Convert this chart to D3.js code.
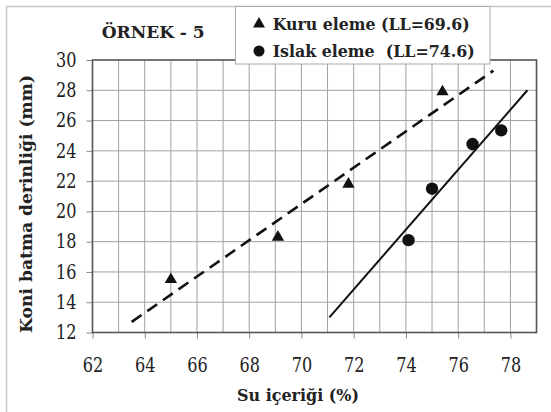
<!DOCTYPE html>
<html><head><meta charset="utf-8">
<script src="https://cdn.jsdelivr.net/npm/d3@7"></script>
<style>body{margin:0;background:#fff}svg{display:block}</style>
</head><body>
<svg id="c" width="551" height="412"></svg>
<script>
const title = "ÖRNEK - 5";
const xLabel = "Su içeriği (%)";
const yLabel = "Koni batma derinliği (mm)";
const xTicks = [62,64,66,68,70,72,74,76,78];
const yTicks = [12,14,16,18,20,22,24,26,28,30];
const kuruName = "Kuru eleme (LL=69.6)";
const islakName = "Islak eleme  (LL=74.6)";
const kuruX = [65.0, 69.1, 71.8, 75.4];
const kuruY = [15.5, 18.3, 21.8, 27.9];
const islakX = [74.1, 75.0, 76.55, 77.65];
const islakY = [18.1, 21.5, 24.45, 25.35];
const kuruFitX = [63.5, 77.35];
const kuruFitY = [12.7, 29.3];
const islakFitX = [71.07, 78.65];
const islakFitY = [13.0, 28.0];

const FONT = "'DejaVu Serif', serif";
const svg = d3.select("#c");
const L = 92.5, R = 536.5, T = 60, B = 332.5;
const x = d3.scaleLinear().domain([62,79]).range([L,R]);
const y = d3.scaleLinear().domain([12,30]).range([B,T]);

svg.append("path").attr("d","M6.5,412 V6.5 H551").attr("fill","none").attr("stroke","#c8c8c8").attr("stroke-width",1.5);

const g = svg.append("g");
g.selectAll(".vg").data(d3.range(63,79)).join("line")
  .attr("x1",d=>x(d)).attr("x2",d=>x(d)).attr("y1",T).attr("y2",B)
  .attr("stroke","#a0a0a0").attr("stroke-width",1);
g.selectAll(".hg").data(yTicks.slice(1,-1)).join("line")
  .attr("y1",d=>y(d)).attr("y2",d=>y(d)).attr("x1",L).attr("x2",R)
  .attr("stroke","#a0a0a0").attr("stroke-width",1);

const xAxis = d3.axisBottom(x).tickValues(xTicks).tickSize(6).tickSizeOuter(0).tickPadding(20);
const yAxis = d3.axisLeft(y).tickValues(yTicks).tickSize(6).tickSizeOuter(0).tickPadding(10);
const gx = svg.append("g").attr("transform",`translate(0,${B})`).call(xAxis);
const gy = svg.append("g").attr("transform",`translate(${L},0)`).call(yAxis);
[gx,gy].forEach(a=>{
  a.attr("font-family",null).attr("font-size",null);
  a.select(".domain").remove();
  a.selectAll(".tick line").attr("stroke","#888").attr("stroke-width",1);
  a.selectAll(".tick text").style("font-family",FONT).style("font-size","19.5px").attr("fill","#222")
    .attr("textLength",20.5).attr("lengthAdjust","spacingAndGlyphs");
});
svg.append("rect").attr("x",L).attr("y",T).attr("width",R-L).attr("height",B-T)
  .attr("fill","none").attr("stroke","#555").attr("stroke-width",1.6);

const line = d3.line().x(d=>x(d[0])).y(d=>y(d[1]));
svg.append("path").datum(kuruFitX.map((v,i)=>[v,kuruFitY[i]])).attr("d",line)
  .attr("fill","none").attr("stroke","#111").attr("stroke-width",2.6).attr("stroke-dasharray","12,7");
svg.append("path").datum(islakFitX.map((v,i)=>[v,islakFitY[i]])).attr("d",line)
  .attr("fill","none").attr("stroke","#111").attr("stroke-width",2);

const tri = d3.symbol().type(d3.symbolTriangle).size(66);
svg.selectAll(".tri").data(kuruX.map((v,i)=>[v,kuruY[i]])).join("path")
  .attr("d",tri).attr("transform",d=>`translate(${x(d[0])},${y(d[1])})`).attr("fill","#111");
svg.selectAll(".cir").data(islakX.map((v,i)=>[v,islakY[i]])).join("circle")
  .attr("cx",d=>x(d[0])).attr("cy",d=>y(d[1])).attr("r",6.2).attr("fill","#111");

function txt(sel){ return sel.style("font-family",FONT).style("font-weight","bold").attr("fill","#222"); }

txt(svg.append("text")).attr("x",101.7).attr("y",37.7)
  .style("font-size","16.5px").attr("textLength",103).attr("lengthAdjust","spacingAndGlyphs").text(title);

const lg = svg.append("g");
lg.append("rect").attr("x",235.5).attr("y",6.5).attr("width",254.5).attr("height",57.5)
  .attr("fill","#fff").attr("stroke","#aaa").attr("stroke-width",1);
lg.append("path").attr("d",d3.symbol().type(d3.symbolTriangle).size(62)()).attr("transform","translate(259,24)").attr("fill","#111");
lg.append("circle").attr("cx",259).attr("cy",51).attr("r",5.5).attr("fill","#111");
txt(lg.append("text")).attr("x",272.7).attr("y",29.5).style("font-size","17px")
  .attr("textLength",197).attr("lengthAdjust","spacingAndGlyphs").text(kuruName);
txt(lg.append("text")).attr("x",272.7).attr("y",57.3).style("font-size","17px").style("white-space","pre")
  .attr("textLength",202).attr("lengthAdjust","spacingAndGlyphs").text(islakName);

txt(svg.append("text")).attr("x",237).attr("y",401)
  .style("font-size","17.5px").attr("textLength",122).attr("lengthAdjust","spacingAndGlyphs").text(xLabel);
txt(svg.append("text")).attr("transform",`translate(31.5,333) rotate(-90)`)
  .style("font-size","17.5px").attr("textLength",258).attr("lengthAdjust","spacingAndGlyphs").text(yLabel);
</script>
</body></html>
